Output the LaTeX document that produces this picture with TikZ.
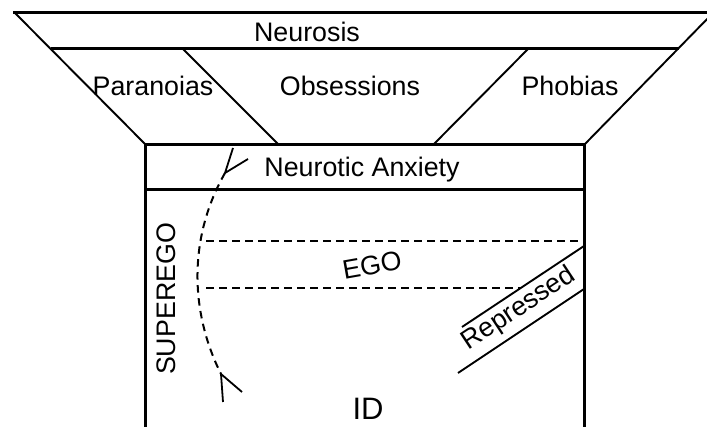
\documentclass[tikz,border=0pt]{standalone}
\usepackage{fontspec}
\setmainfont{Liberation Sans}
\begin{document}
\begin{tikzpicture}[x=1pt,y=-1pt,
  thick line/.style={line width=3pt},
  thin line/.style={line width=1.9pt},
  dash line/.style={line width=2pt, dash pattern=on 7.5pt off 5.5pt},
  barb/.style={line width=1.8pt},
  lbl/.style={inner sep=0pt, font=\fontsize{26.8}{30}\selectfont},
  big/.style={inner sep=0pt, font=\fontsize{31}{34}\selectfont}]
\useasboundingbox (0,0) rectangle (707,427);
\clip (0,0) rectangle (707,427);
% funnel
\draw[thick line] (13,13) -- (707,13);
\draw[thick line] (51,49) -- (679,49);
\draw[thin line] (15,13) -- (146,145);
\draw[thin line] (713,13) -- (584,145);
\draw[thin line] (183,49) -- (279,145);
\draw[thin line] (528,49) -- (433,145);
% box
\draw[thick line] (145,440) -- (145,145) -- (584,145) -- (584,440);
\draw[thick line] (145,190) -- (584,190);
% ego band
\draw[dash line] (206,241) -- (584,241);
\draw[dash line] (206,288) -- (520,288);
% repressed
\draw[thin line] (462,327) -- (584,246);
\draw[thin line] (458,373) -- (584,289);
% superego arc
\coordinate (ta) at (225,173);
\coordinate (ba) at (221,374);
\draw[dash line] (ta) .. controls (189,236) and (189,310) .. (ba);
\draw[barb] (233,148) -- (ta) -- (248,159);
\draw[barb] (223,402) -- (ba) -- (242,392);
% labels
\node[lbl, anchor=base] (neurosis) at (307,42) {Neurosis};
\node[lbl, anchor=base] (paranoias) at (153,96) {Paranoias};
\node[lbl, anchor=base] (obsessions) at (350,96) {Obsessions};
\node[lbl, anchor=base] (phobias) at (570,96) {Phobias};
\node[lbl, anchor=base] (anxiety) at (362,177) {Neurotic Anxiety};
\node[lbl, rotate=90] (superego) at (166,299) {SUPEREGO};
\node[lbl, rotate=10] (ego) at (372,265) {EGO};
\node[lbl, rotate=33.5] (repressed) at (519,309) {Repressed};
\node[big, anchor=base] (id) at (368,420) {ID};
\end{tikzpicture}
\end{document}
